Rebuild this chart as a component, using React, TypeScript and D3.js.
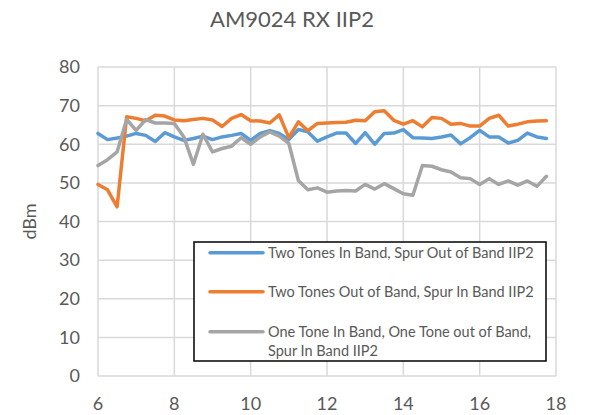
import React from "react";
import * as d3 from "d3";

const xValues: number[] = [
  6.0, 6.25, 6.5, 6.75, 7.0, 7.25, 7.5, 7.75, 8.0, 8.25, 8.5, 8.75,
  9.0, 9.25, 9.5, 9.75, 10.0, 10.25, 10.5, 10.75, 11.0, 11.25, 11.5, 11.75,
  12.0, 12.25, 12.5, 12.75, 13.0, 13.25, 13.5, 13.75, 14.0, 14.25, 14.5, 14.75,
  15.0, 15.25, 15.5, 15.75, 16.0, 16.25, 16.5, 16.75, 17.0, 17.25, 17.5, 17.75,
];

const twoTonesInBand: number[] = [
  62.8, 61.2, 61.6, 62.1, 62.8, 62.3, 60.7, 63.0, 61.9, 61.0, 61.5, 62.1,
  61.2, 61.9, 62.3, 62.8, 61.0, 62.8, 63.5, 62.8, 61.2, 63.8, 63.2, 60.8,
  61.9, 62.9, 62.9, 60.2, 63.0, 60.0, 62.8, 62.9, 63.8, 61.7, 61.6, 61.5,
  61.9, 62.4, 60.1, 61.7, 63.6, 61.9, 61.9, 60.3, 61.0, 62.9, 61.9, 61.5,
];

const twoTonesOutOfBand: number[] = [
  49.6, 48.2, 43.8, 67.1, 66.7, 66.1, 67.5, 67.3, 66.3, 66.1, 66.4, 66.7,
  66.3, 64.6, 66.7, 67.7, 66.1, 66.0, 65.5, 67.6, 61.7, 65.8, 63.5, 65.4,
  65.5, 65.6, 65.7, 66.2, 66.1, 68.4, 68.7, 66.2, 65.2, 66.1, 64.5, 66.9,
  66.7, 65.2, 65.4, 64.7, 64.7, 66.7, 67.5, 64.7, 65.2, 65.8, 66.0, 66.1,
];

const oneToneInOneOut: number[] = [
  54.5, 56.0, 58.0, 66.4, 63.6, 66.4, 65.5, 65.5, 65.4, 61.9, 54.8, 62.6,
  58.0, 58.9, 59.5, 61.7, 60.0, 61.9, 63.2, 62.1, 60.2, 50.6, 48.2, 48.7,
  47.6, 47.9, 48.0, 47.9, 49.6, 48.4, 49.8, 48.5, 47.2, 46.8, 54.5, 54.3,
  53.4, 52.8, 51.3, 51.1, 49.6, 51.1, 49.6, 50.5, 49.4, 50.5, 49.1, 51.7,
];

const xTicks: number[] = [6, 8, 10, 12, 14, 16, 18];
const yTicks: number[] = [0, 10, 20, 30, 40, 50, 60, 70, 80];

const seriesNames: string[][] = [
  ["Two Tones In Band, Spur Out of Band IIP2"],
  ["Two Tones Out of Band, Spur In Band IIP2"],
  ["One Tone In Band, One Tone out of Band,", "Spur In Band IIP2"],
];
const seriesColors: string[] = ["#5b9bd5", "#ed7d31", "#a5a5a5"];
const seriesData: number[][] = [twoTonesInBand, twoTonesOutOfBand, oneToneInOneOut];

const W = 589;
const H = 415;
const left = 98;
const right = 556;
const top = 67;
const bottom = 376;
const FONT = "Lato, 'Open Sans', sans-serif";
const TEXT = "#595959";

export default function App() {
  const x = d3.scaleLinear().domain([6, 18]).range([left, right]);
  const y = d3.scaleLinear().domain([0, 80]).range([bottom, top]);
  const line = d3
    .line<number>()
    .x((_, i) => x(xValues[i]))
    .y((d) => y(d));

  const legendX = 194;
  const legendY = 242;
  const legendW = 352;
  const legendH = 119;
  const rowY = [252.7, 291.7, 331.7];

  return (
    <div style={{ position: "absolute", left: 0, top: 0, width: W, height: H, background: "#fff" }}>
      <svg width={W} height={H} style={{ display: "block" }}>
        <rect width={W} height={H} fill="#fff" />
        <text x={292} y={27} textAnchor="middle" fontFamily={FONT} fontSize={22} fill={TEXT}>
          AM9024 RX IIP2
        </text>
        {yTicks.map((t) => (
          <line key={"gy" + t} x1={left} x2={right} y1={y(t)} y2={y(t)} stroke="#d9d9d9" strokeWidth={1.5} />
        ))}
        {xTicks.map((t) => (
          <line key={"gx" + t} x1={x(t)} x2={x(t)} y1={top} y2={bottom} stroke="#d9d9d9" strokeWidth={1.5} />
        ))}
        {yTicks.map((t) => (
          <text key={"ty" + t} x={80} y={y(t)} dy="0.35em" textAnchor="end" fontFamily={FONT} fontSize={18} fill={TEXT}>
            {t}
          </text>
        ))}
        {xTicks.map((t) => (
          <text key={"tx" + t} x={x(t)} y={404} dy="0.35em" textAnchor="middle" fontFamily={FONT} fontSize={18} fill={TEXT}>
            {t}
          </text>
        ))}
        <text
          transform={`translate(30,${(top + bottom) / 2}) rotate(-90)`}
          textAnchor="middle"
          dy="0.35em"
          fontFamily={FONT}
          fontSize={18}
          fill={TEXT}
        >
          dBm
        </text>
        {seriesData.map((s, i) => (
          <path
            key={"s" + i}
            d={line(s) || ""}
            fill="none"
            stroke={seriesColors[i]}
            strokeWidth={3.5}
            strokeLinejoin="round"
            strokeLinecap="round"
          />
        ))}
        <rect x={legendX} y={legendY} width={legendW} height={legendH} fill="#fff" stroke="#000" strokeWidth={1.5} />
        {seriesNames.map((names, i) => (
          <g key={"lg" + i}>
            <line x1={210} x2={263} y1={rowY[i]} y2={rowY[i]} stroke={seriesColors[i]} strokeWidth={3.5} strokeLinecap="round" />
            {names.map((n, j) => (
              <text key={j} x={268} y={rowY[i] + j * 19} dy="0.35em" fontFamily={FONT} fontSize={14.5} fill={TEXT}>
                {n}
              </text>
            ))}
          </g>
        ))}
      </svg>
    </div>
  );
}
